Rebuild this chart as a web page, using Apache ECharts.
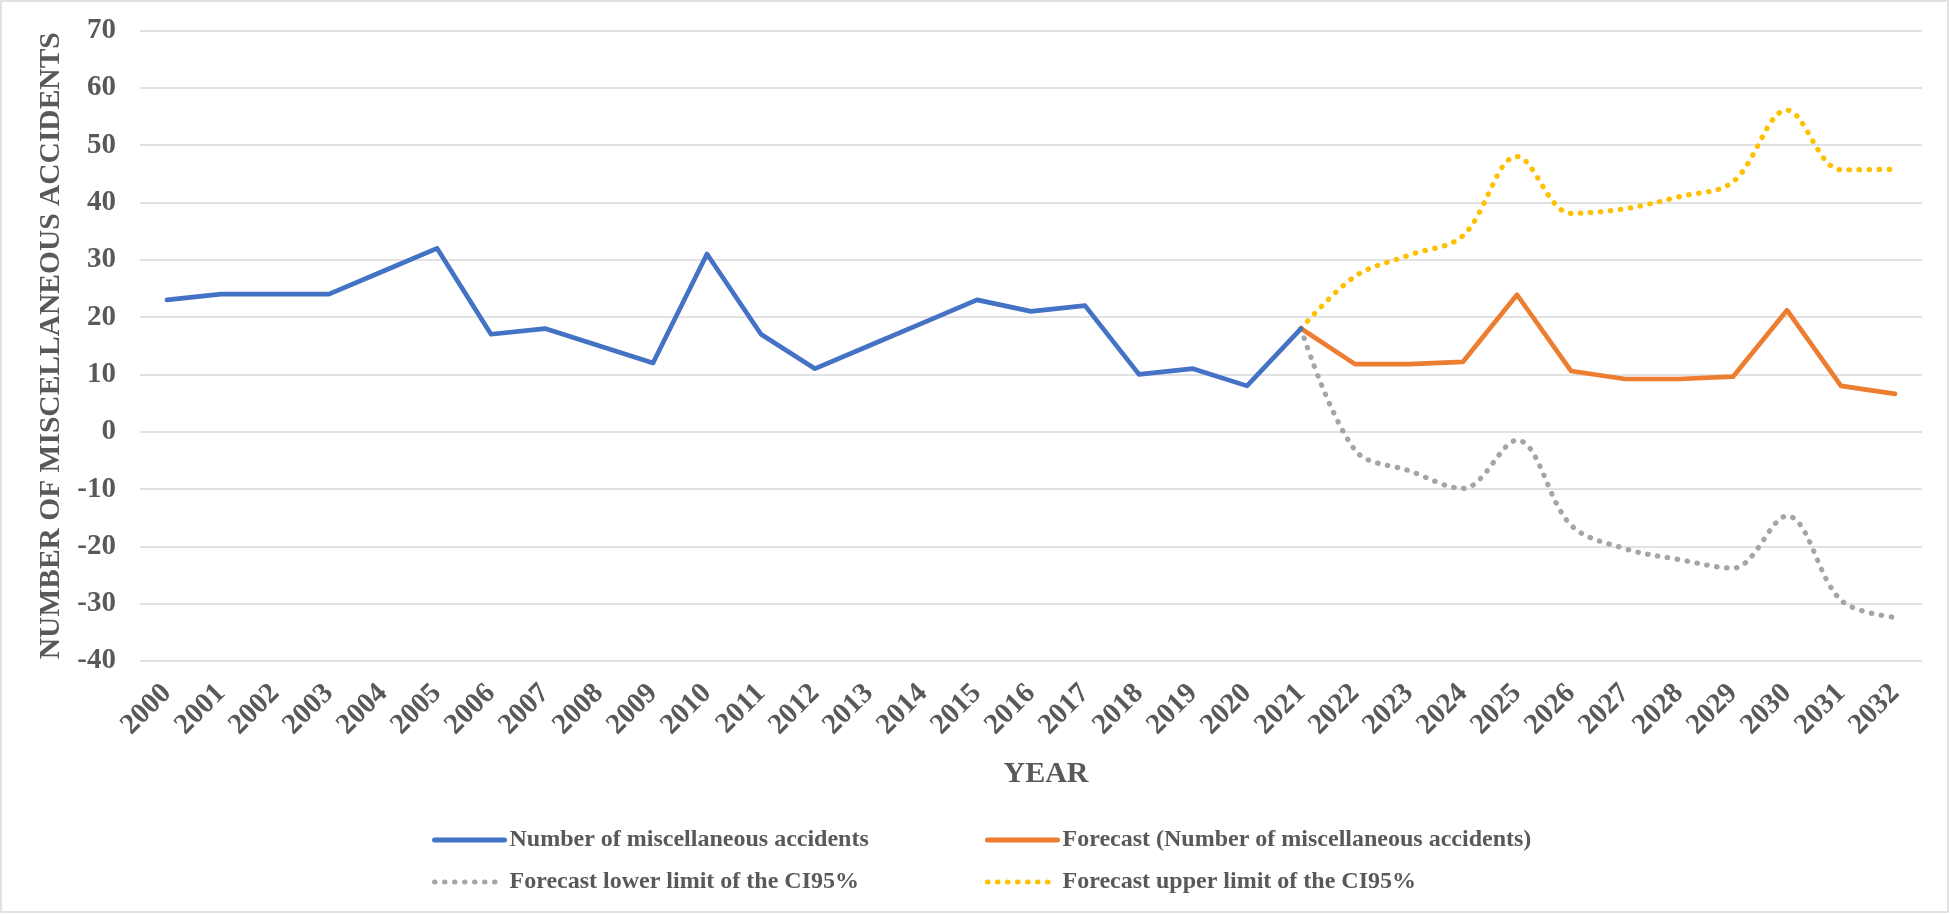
<!DOCTYPE html>
<html>
<head>
<meta charset="utf-8">
<script src="https://cdn.jsdelivr.net/npm/echarts@6/dist/echarts.min.js"></script>
<style>
    html, body { margin: 0; padding: 0; background: #fff; }
    #chart { width: 1950px; height: 914px; }
</style>
</head>
<body>
<div id="chart"></div>
<script>
    // years on the x axis
    const years = ['2000', '2001', '2002', '2003', '2004', '2005', '2006', '2007', '2008', '2009', '2010',
        '2011', '2012', '2013', '2014', '2015', '2016', '2017', '2018', '2019', '2020', '2021',
        '2022', '2023', '2024', '2025', '2026', '2027', '2028', '2029', '2030', '2031', '2032'];

    // observed 2000-2021
    const observed = [23, 24, 24, 24, 28, 32, 17, 18, 15, 12, 31, 17, 11, 15, 19, 23, 21, 22, 10, 11, 8, 18];
    // forecast 2021-2032
    const forecast = [18, 11.8, 11.8, 12.2, 23.9, 10.6, 9.2, 9.2, 9.6, 21.2, 8.0, 6.6];
    const lowerCI = [18, -3.2, -6.8, -9.9, -1.5, -16.3, -20.4, -22.3, -23.8, -14.7, -29.4, -32.4];
    const upperCI = [18, 27.1, 30.8, 34.2, 48.0, 38.1, 38.9, 41.0, 43.6, 56.1, 45.7, 45.8];

    const yTicks = {min: -40, max: 70, step: 10};

    const names = ['Number of miscellaneous accidents', 'Forecast (Number of miscellaneous accidents)',
        'Forecast lower limit of the CI95%', 'Forecast upper limit of the CI95%'];
    const colors = ['#4472C4', '#ED7D31', '#A5A5A5', '#FFC000'];

    const FONT = '"Liberation Serif", "Times New Roman", serif';
    const TEXT = '#595959';

    // pad forecast arrays so they start at 2021
    function fromYear(arr, startIdx) {
        const out = years.map(() => null);
        arr.forEach((v, i) => { out[startIdx + i] = v; });
        return out;
    }
    const start = years.indexOf('2021');

    const chart = echarts.init(document.getElementById('chart'), null, {renderer: 'canvas'});

    function legendBlock(left, items) {
        return {
            data: items,
            orient: 'vertical',
            left: left,
            top: 828,
            padding: 0,
            itemWidth: 70,
            itemHeight: 14,
            itemGap: 18,
            // hide the circle that line legends draw by default
            itemStyle: {color: 'transparent', borderColor: 'transparent', borderWidth: 0},
            lineStyle: {width: 5},
            textStyle: {fontFamily: FONT, fontWeight: 'bold', fontSize: 24, color: TEXT, lineHeight: 24}
        };
    }

    const dotted = [0.5, 9.5];

    const option = {
        backgroundColor: '#fff',
        animation: false,
        color: colors,
        graphic: [{
            type: 'rect',
            shape: {x: 1, y: 1, width: 1947, height: 911},
            style: {fill: null, stroke: '#D9D9D9', lineWidth: 1.5},
            silent: true
        }],
        legend: [
            legendBlock(432, [names[0], names[2]]),
            legendBlock(985, [names[1], names[3]])
        ],
        grid: {left: 140, right: 28, top: 30.5, bottom: 253},
        xAxis: {
            type: 'category',
            data: years,
            boundaryGap: true,
            name: 'YEAR',
            nameLocation: 'middle',
            nameGap: 98,
            nameTextStyle: {fontFamily: FONT, fontWeight: 'bold', fontSize: 30, color: TEXT, padding: [0, 0, 0, 30]},
            axisLine: {show: false},
            axisTick: {show: false},
            axisLabel: {
                interval: 0,
                rotate: 45,
                margin: 28,
                fontFamily: FONT, fontWeight: 'bold', fontSize: 29, color: TEXT
            },
            splitLine: {show: false}
        },
        yAxis: {
            type: 'value',
            min: yTicks.min,
            max: yTicks.max,
            interval: yTicks.step,
            name: 'NUMBER OF MISCELLANEOUS ACCIDENTS',
            nameLocation: 'middle',
            nameGap: 63,
            nameTextStyle: {fontFamily: FONT, fontWeight: 'bold', fontSize: 29.5, color: TEXT},
            axisLine: {show: false},
            axisTick: {show: false},
            axisLabel: {margin: 24, fontFamily: FONT, fontWeight: 'bold', fontSize: 29, color: TEXT},
            splitLine: {lineStyle: {color: '#D9D9D9', width: 1.5}}
        },
        series: [
            {
                name: names[0], type: 'line', data: observed.concat(years.slice(observed.length).map(() => null)),
                symbol: 'none', lineStyle: {color: colors[0], width: 4.7, cap: 'round', join: 'round'}, z: 4
            },
            {
                name: names[1], type: 'line', data: fromYear(forecast, start),
                symbol: 'none', lineStyle: {color: colors[1], width: 4.7, cap: 'round', join: 'round'}, z: 3
            },
            {
                name: names[2], type: 'line', data: fromYear(lowerCI, start), smooth: 0.35,
                symbol: 'none', lineStyle: {color: colors[2], width: 5.2, type: dotted, cap: 'round'}, z: 2
            },
            {
                name: names[3], type: 'line', data: fromYear(upperCI, start), smooth: 0.35,
                symbol: 'none', lineStyle: {color: colors[3], width: 5.2, type: dotted, cap: 'round'}, z: 2
            }
        ]
    };

    chart.setOption(option);
</script>
</body>
</html>
